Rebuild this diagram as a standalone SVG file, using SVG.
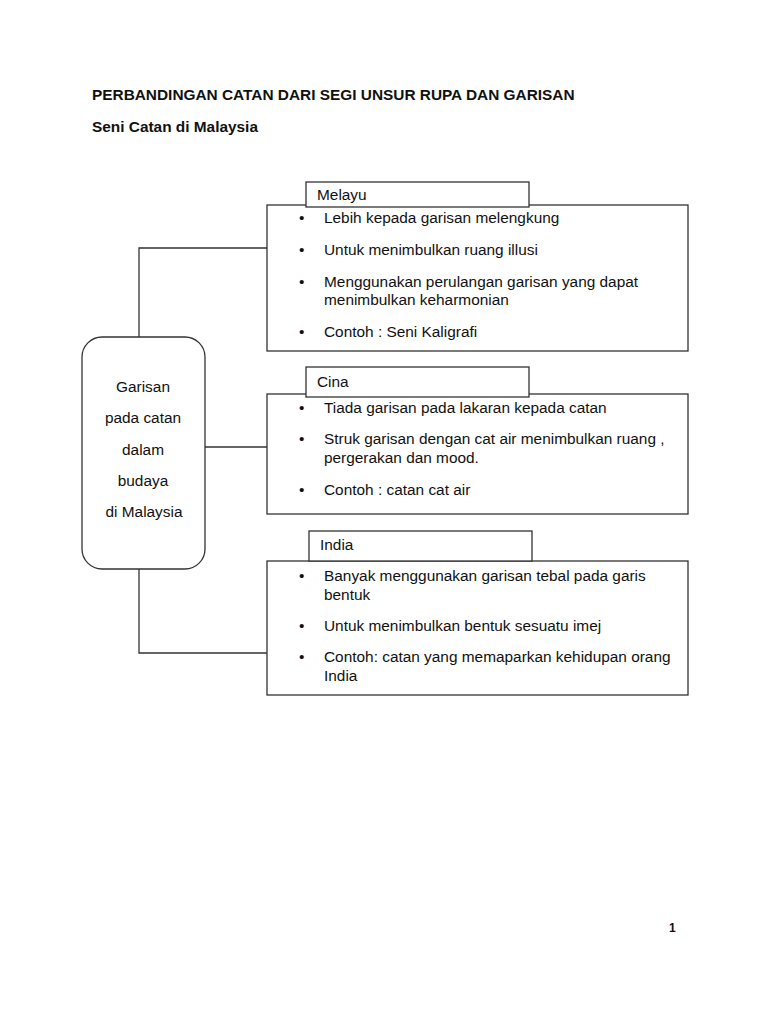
<svg xmlns="http://www.w3.org/2000/svg" width="768" height="1024" viewBox="0 0 768 1024">
<style>
text{font-family:"Liberation Sans",Arial,sans-serif;font-size:15.4px;fill:#111}
.b{font-weight:bold}
.box{fill:#fff;stroke:#333;stroke-width:1.3}
.con{fill:none;stroke:#333;stroke-width:1.3}
.c{text-anchor:middle}
</style>
<rect width="768" height="1024" fill="#fff"/>
<text class="b" x="92" y="100">PERBANDINGAN CATAN DARI SEGI UNSUR RUPA DAN GARISAN</text>
<text class="b" x="92" y="132">Seni Catan di Malaysia</text>
<g id="connectors">
<path class="con" d="M267,248 H139 V337"/>
<path class="con" d="M205,447 H267"/>
<path class="con" d="M139,569 V653 H267"/>
</g>
<g id="center">
<rect class="box" x="82" y="337" width="123" height="232" rx="20" ry="20"/>
<text class="c" x="143" y="392">Garisan</text>
<text class="c" x="143" y="423">pada catan</text>
<text class="c" x="143" y="455">dalam</text>
<text class="c" x="143" y="486">budaya</text>
<text class="c" x="144" y="517">di Malaysia</text>
</g>
<g id="melayu">
<rect class="box" x="267" y="205" width="421" height="146"/>
<rect class="box" x="306" y="182" width="223" height="25"/>
<text x="317" y="200">Melayu</text>
<text x="299" y="223">•</text><text x="324" y="223">Lebih kepada garisan melengkung</text>
<text x="299" y="255">•</text><text x="324" y="255">Untuk menimbulkan ruang illusi</text>
<text x="299" y="287">•</text><text x="324" y="287">Menggunakan perulangan garisan yang dapat</text>
<text x="324" y="305">menimbulkan keharmonian</text>
<text x="299" y="337">•</text><text x="324" y="337">Contoh : Seni Kaligrafi</text>
</g>
<g id="cina">
<rect class="box" x="267" y="394" width="421" height="120"/>
<rect class="box" x="306" y="367" width="223" height="30"/>
<text x="317" y="387">Cina</text>
<text x="299" y="413">•</text><text x="324" y="413">Tiada garisan pada lakaran kepada catan</text>
<text x="299" y="444">•</text><text x="324" y="444">Struk garisan dengan cat air menimbulkan ruang ,</text>
<text x="324" y="463">pergerakan dan mood.</text>
<text x="299" y="495">•</text><text x="324" y="495">Contoh : catan cat air</text>
</g>
<g id="india">
<rect class="box" x="267" y="561" width="421" height="134"/>
<rect class="box" x="309" y="531" width="223" height="30"/>
<text x="320" y="550">India</text>
<text x="299" y="581">•</text><text x="324" y="581">Banyak menggunakan garisan tebal pada garis</text>
<text x="324" y="600">bentuk</text>
<text x="299" y="631">•</text><text x="324" y="631">Untuk menimbulkan bentuk sesuatu imej</text>
<text x="299" y="662">•</text><text x="324" y="662">Contoh: catan yang memaparkan kehidupan orang</text>
<text x="324" y="681">India</text>
</g>
<text class="b" x="669" y="932" style="font-size:12px">1</text>
</svg>
